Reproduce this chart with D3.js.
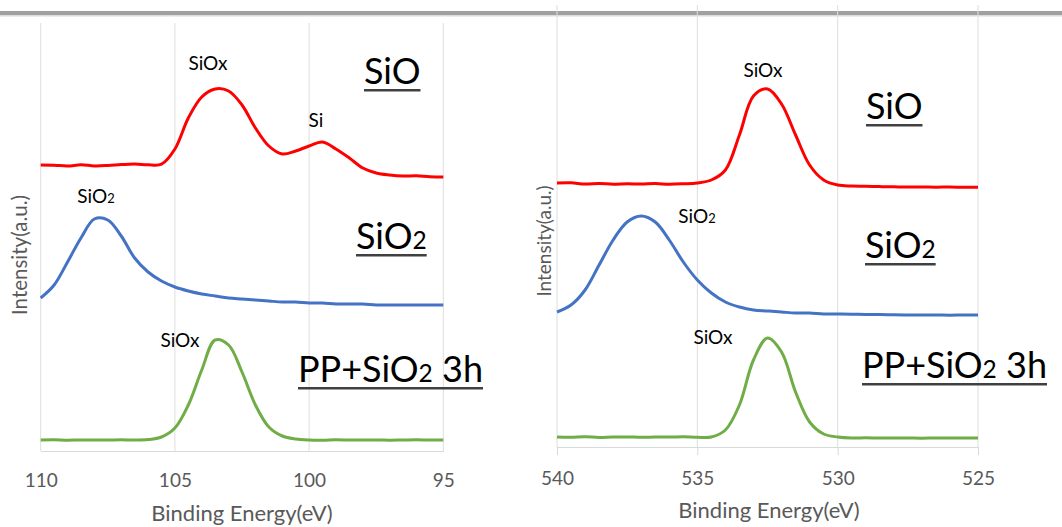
<!DOCTYPE html>
<html>
<head>
<meta charset="utf-8">
<script src="https://cdn.jsdelivr.net/npm/d3@7"></script>
<style>
body { margin: 0; background: #fff; }
svg { display: block; font-family: Lato, "Open Sans", sans-serif; }
</style>
</head>
<body>
<div id="chart"></div>
<script>
// Si 2p region (binding energy, eV)
var siEnergy = [110, 109.5, 109, 108.5, 108, 107.5, 107, 106.5, 106, 105.5, 105, 104.5, 104, 103.5, 103, 102.5,
  102, 101.5, 101, 100.5, 100, 99.5, 99, 98.5, 98, 97.5, 97, 96.5, 96, 95.5, 95];
var siSiO = [2860, 2858, 2850, 2862, 2851, 2855, 2864, 2870, 2862, 2868, 3020, 3330, 3540, 3620, 3600, 3460,
  3230, 3050, 2970, 3000, 3050, 3090, 3020, 2930, 2830, 2780, 2760, 2750, 2752, 2742, 2740];
var siSiO2 = [1530, 1660, 1890, 2130, 2320, 2310, 2150, 1930, 1790, 1700, 1640, 1600, 1570, 1550, 1530, 1520,
  1510, 1500, 1490, 1490, 1480, 1480, 1470, 1470, 1470, 1460, 1460, 1460, 1460, 1460, 1460];
var siPP = [110, 112, 108, 111, 109, 110, 112, 110, 114, 140, 230, 460, 810, 1110, 1060, 790,
  460, 240, 150, 120, 110, 108, 112, 110, 109, 111, 108, 110, 112, 109, 110];
var siTicks = [110, 105, 100, 95];

// O 1s region
var oEnergy = [540, 539.5, 539, 538.5, 538, 537.5, 537, 536.5, 536, 535.5, 535, 534.5, 534, 533.5, 533, 532.5,
  532, 531.5, 531, 530.5, 530, 529.5, 529, 528.5, 528, 527.5, 527, 526.5, 526, 525.5, 525];
var oSiO = [2640, 2642, 2630, 2635, 2628, 2632, 2630, 2634, 2628, 2632, 2640, 2670, 2770, 3120, 3510, 3580,
  3430, 3120, 2820, 2670, 2620, 2610, 2608, 2604, 2602, 2600, 2601, 2598, 2600, 2597, 2598];
var oSiO2 = [1350, 1420, 1570, 1820, 2070, 2250, 2310, 2250, 2070, 1850, 1670, 1540, 1450, 1400, 1370, 1360,
  1350, 1340, 1340, 1330, 1330, 1328, 1325, 1325, 1322, 1320, 1320, 1320, 1318, 1320, 1320];
var oPP = [100, 98, 102, 96, 100, 101, 97, 100, 99, 102, 98, 100, 170, 420, 870, 1090,
  950, 550, 250, 130, 100, 90, 92, 89, 91, 90, 88, 91, 90, 89, 90];
var oTicks = [540, 535, 530, 525];

var seriesColors = ["#ff0000", "#4472c4", "#70ad47"];
var sampleNames = [["SiO"], ["SiO", "2"], ["PP+SiO", "2", " 3h"]];

var width = 1062, height = 527;

var svg = d3.select("#chart").append("svg")
  .attr("width", width)
  .attr("height", height);

// grey rule across the top
svg.append("rect").attr("x", 0).attr("y", 11).attr("width", width).attr("height", 4).attr("fill", "#a0a0a0");
svg.append("rect").attr("x", 0).attr("y", 15).attr("width", width).attr("height", 1.5).attr("fill", "#dcdcdc");

function addText(g, parts, x, y, size, anchor) {
  var t = g.append("text")
    .attr("x", x).attr("y", y)
    .attr("font-size", size)
    .attr("text-anchor", anchor || "start")
    .attr("fill", "#000");
  parts.forEach(function(p, i) {
    t.append("tspan").attr("font-size", i % 2 == 1 ? size * 0.68 : size).text(p);
  });
  return t;
}

function drawPanel(p) {
  var x = d3.scaleLinear().domain(p.xDomain).range(p.xRange);
  var y = d3.scaleLinear().domain(p.yDomain).range(p.yRange);
  var g = svg.append("g");

  // gridlines
  g.selectAll(".grid").data(p.ticks).enter().append("line")
    .attr("x1", d => x(d)).attr("x2", d => x(d))
    .attr("y1", p.yRange[1]).attr("y2", p.yRange[0])
    .attr("stroke", "#dedede").attr("stroke-width", 1);

  var axis = g.append("g")
    .attr("transform", `translate(0, ${p.yRange[0]})`)
    .call(d3.axisBottom(x).tickValues(p.ticks).tickSizeOuter(0).tickSize(p.tickLen).tickPadding(p.tickPad));
  axis.select(".domain").attr("stroke", "#d9d9d9").attr("stroke-width", 1);
  axis.selectAll(".tick line").attr("stroke", "#d9d9d9");
  axis.selectAll(".tick text").attr("font-size", 19).attr("fill", "#595959").attr("font-family", "Lato, sans-serif");

  g.append("text")
    .attr("x", p.xTitle[0]).attr("y", p.xTitle[1])
    .attr("text-anchor", "middle")
    .attr("font-size", 22).attr("fill", "#595959")
    .text("Binding Energy(eV)");

  g.append("text")
    .attr("transform", `translate(${p.yTitle[0]}, ${p.yTitle[1]}) rotate(-90)`)
    .attr("text-anchor", "middle")
    .attr("font-size", p.yTitleSize).attr("fill", "#595959")
    .text("Intensity(a.u.)");

  var line = d3.line()
    .x((d, i) => x(p.energy[i]))
    .y(d => y(d))
    .curve(d3.curveCatmullRom.alpha(0.5));

  p.series.forEach(function(s, i) {
    g.append("path")
      .datum(s)
      .attr("fill", "none")
      .attr("stroke", seriesColors[i])
      .attr("stroke-width", 3)
      .attr("stroke-linejoin", "round")
      .attr("d", line);
  });

  // peak labels
  p.peaks.forEach(function(pk) {
    addText(g, pk.text, pk.x, pk.y, 19, "middle");
  });

  // sample names, underlined
  p.names.forEach(function(nm, i) {
    var t = addText(g, sampleNames[i], nm[0], nm[1], 36, "start");
    var w = t.node().getComputedTextLength();
    g.append("rect")
      .attr("x", nm[0]).attr("y", nm[1] + 5)
      .attr("width", w).attr("height", 2.5)
      .attr("fill", "#404040");
  });
}

drawPanel({
  energy: siEnergy,
  series: [siSiO, siSiO2, siPP],
  ticks: siTicks,
  xDomain: [110, 95], xRange: [40.7, 443.3],
  yDomain: [0, 4280], yRange: [451, 23],
  tickLen: 0, tickPad: 23,
  xTitle: [242, 521], yTitle: [27, 255], yTitleSize: 20.5,
  peaks: [
    {text: ["SiOx"], x: 208, y: 70},
    {text: ["Si"], x: 316, y: 127},
    {text: ["SiO", "2"], x: 96, y: 203},
    {text: ["SiOx"], x: 180, y: 347}
  ],
  names: [[364, 84], [356, 249], [298, 382]]
});

drawPanel({
  energy: oEnergy,
  series: [oSiO, oSiO2, oPP],
  ticks: oTicks,
  xDomain: [540, 525], xRange: [557, 978],
  yDomain: [0, 4420], yRange: [447, 5],
  tickLen: 8, tickPad: 16.5,
  xTitle: [769, 518], yTitle: [551, 241], yTitleSize: 19,
  peaks: [
    {text: ["SiOx"], x: 763, y: 77},
    {text: ["SiO", "2"], x: 697, y: 223},
    {text: ["SiOx"], x: 713, y: 344}
  ],
  names: [[866, 119], [865, 258], [862, 378]]
});
</script>
</body>
</html>
